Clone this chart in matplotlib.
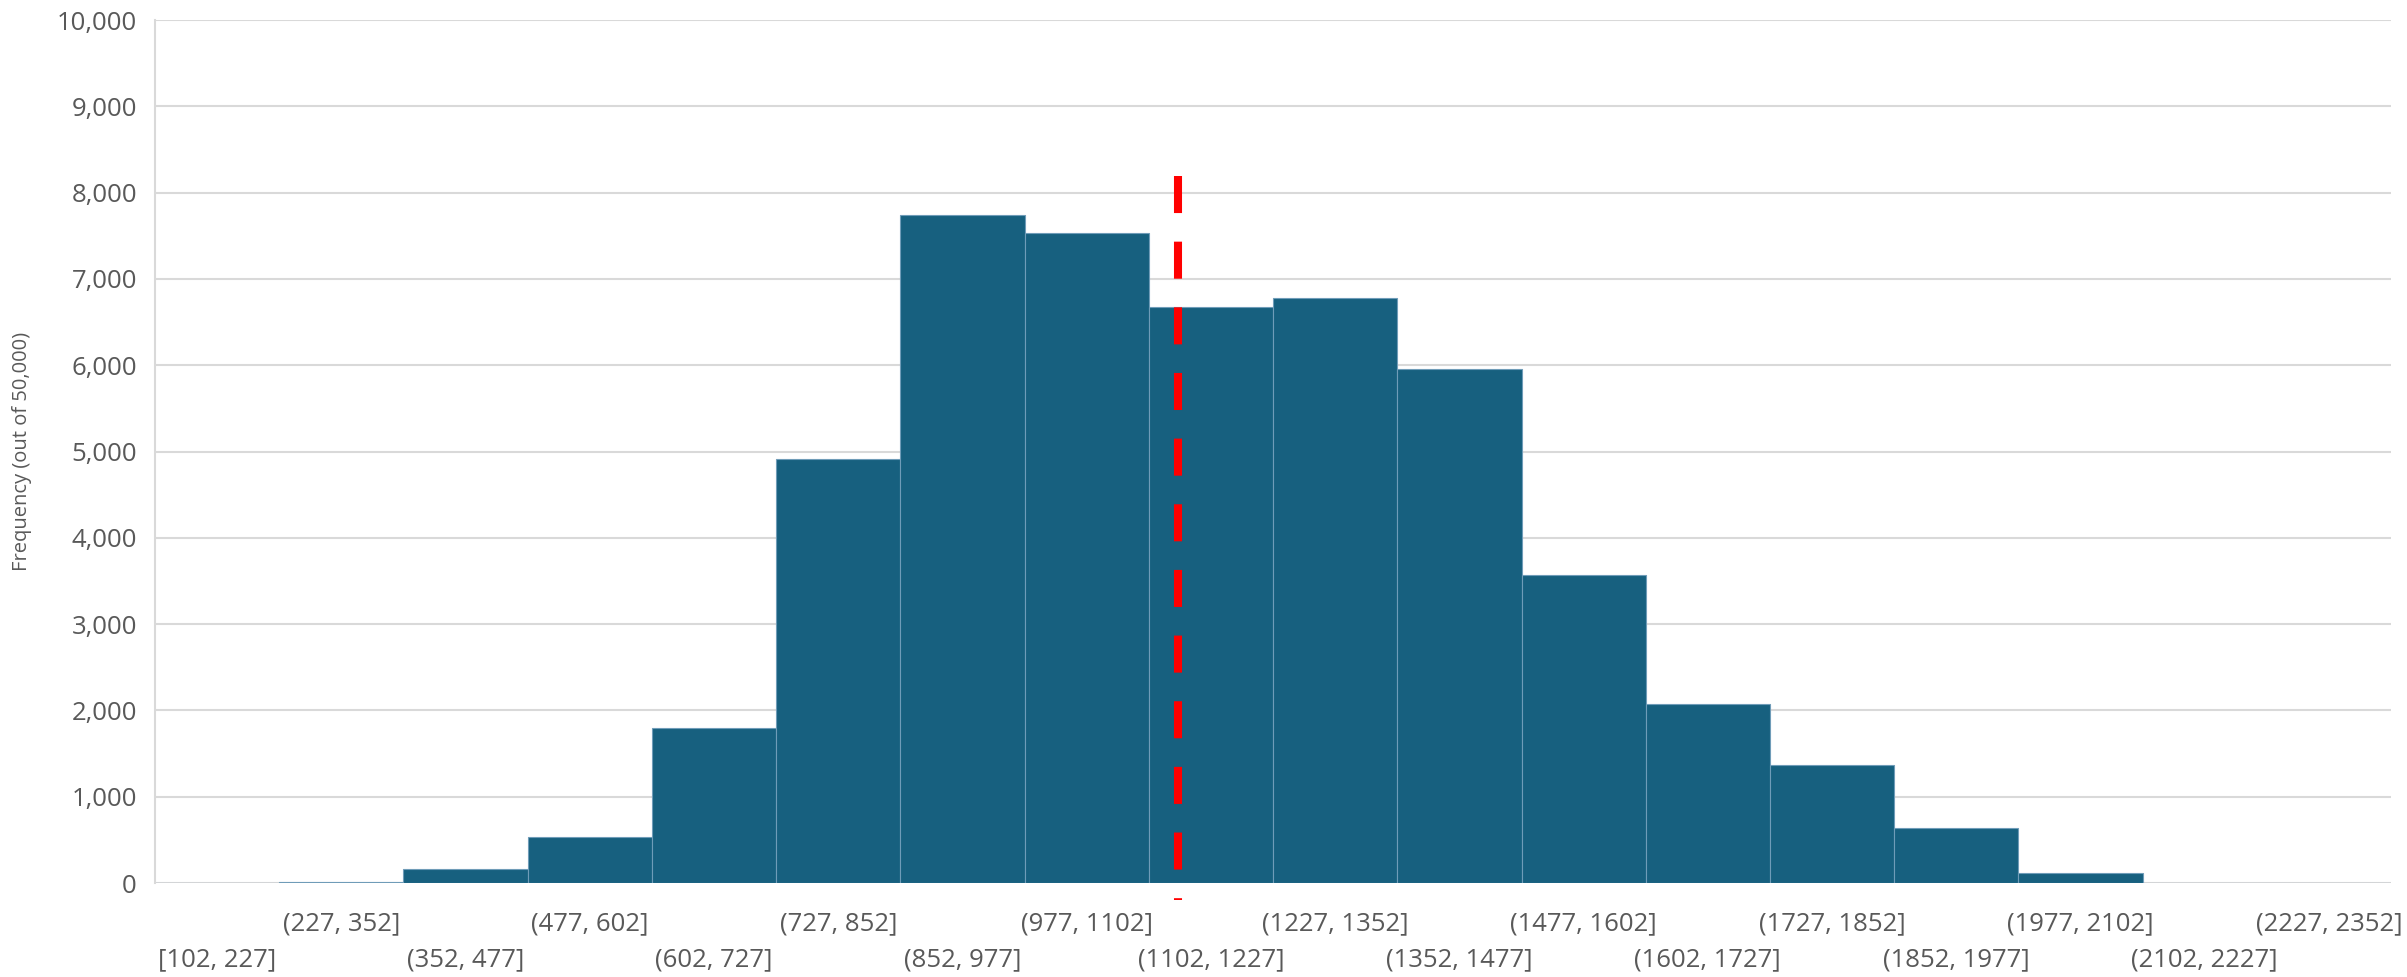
import matplotlib
matplotlib.use("Agg")
import matplotlib.pyplot as plt
from matplotlib.ticker import FuncFormatter

# bin edges (value ranges) and counts out of 50,000 runs
bin_edges = [102, 227, 352, 477, 602, 727, 852, 977, 1102, 1227, 1352,
             1477, 1602, 1727, 1852, 1977, 2102, 2227, 2352]
counts = [0, 15, 166, 530, 1800, 4910, 7740, 7530, 6670, 6780, 5960,
          3570, 2080, 1370, 634, 120, 0, 0]
bin_labels = ["[102, 227]"] + ["(%d, %d]" % (a, b) for a, b in zip(bin_edges[1:-1], bin_edges[2:])]
mean_value = 1131
mean_line_y = [8190, -200]

plt.rcParams['font.family'] = ['Open Sans', 'DejaVu Sans']

fig = plt.figure(figsize=(24.07, 9.77), dpi=100)
ax = fig.add_axes([0.0644, 0.0962, 0.9290, 0.8833])

idx = list(range(len(counts)))
ax.bar(idx, counts, width=1.0, align='center', color='#17607f',
       edgecolor='#6f9cb8', linewidth=0.8, zorder=2)

# mean marker, placed on the bin index scale
x_mean = idx[0] - 0.5 + (mean_value - bin_edges[0]) / (bin_edges[1] - bin_edges[0])
ax.plot([x_mean, x_mean], mean_line_y, color='#ff0000', linewidth=5.8, dashes=(4.6, 3.55),
        dash_capstyle='butt', clip_on=False, zorder=3)

ax.set_xlim(-0.5, len(counts) - 0.5)
ax.set_ylim(0, 10000)
ax.set_yticks(range(0, 10001, 1000))
ax.yaxis.set_major_formatter(FuncFormatter(lambda v, p: "{:,.0f}".format(v)))
ax.set_xticks(idx)
ax.set_xticklabels(bin_labels)

ax.tick_params(axis='both', length=0, labelsize=18.5, labelcolor='#595959')
ax.tick_params(axis='y', pad=13)
for i, t in enumerate(ax.xaxis.get_major_ticks()):
    t.set_pad(46 if i % 2 == 0 else 20)

ax.grid(axis='y', color='#d9d9d9', linewidth=1.5, zorder=0)
ax.set_axisbelow(True)
for s in ['top', 'right', 'bottom']:
    ax.spines[s].set_visible(False)
ax.spines['left'].set_color('#d9d9d9')
ax.spines['left'].set_linewidth(1.5)

ax.set_ylabel('Frequency (out of 50,000)', fontsize=14.5, color='#595959', labelpad=18)

fig.savefig('out.png', dpi=100)
